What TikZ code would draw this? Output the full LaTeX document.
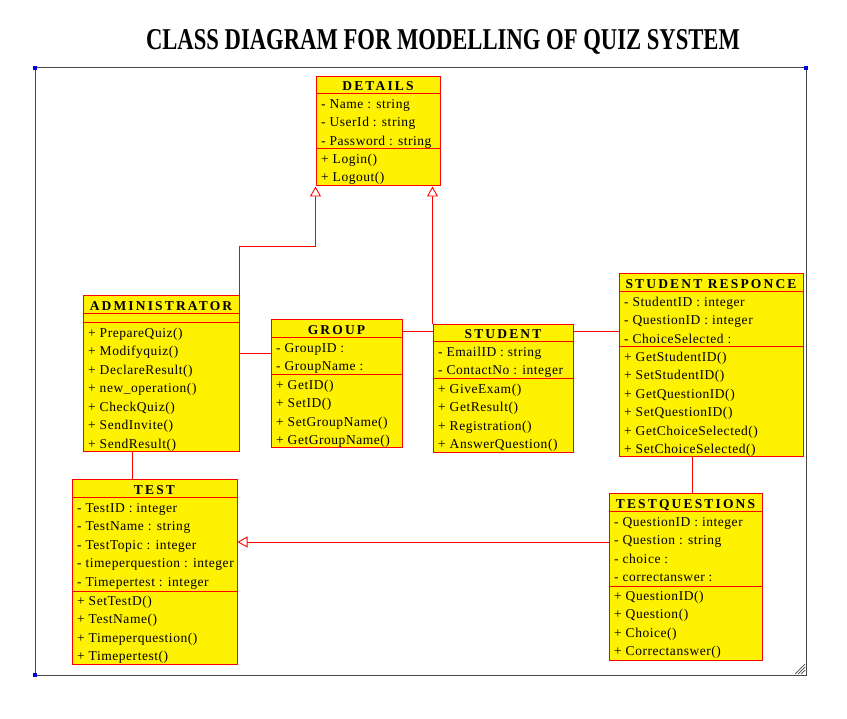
\documentclass[tikz,border=0pt]{standalone}
\usepackage{fontspec}
\setmainfont{Liberation Serif}
\usetikzlibrary{arrows.meta,fit}
\newfontfamily\rowfont[LetterSpace=4]{Liberation Serif}
\newfontfamily\headfont[LetterSpace=16]{Liberation Serif}
\newfontfamily\titlefont{Liberation Serif}
\definecolor{framegray}{RGB}{70,70,70}
\definecolor{markblue}{RGB}{0,0,220}
\tikzset{
  classbox/.style={draw=red, fill=yellow, line width=1pt, inner sep=0pt},
  divider/.style={draw=red, line width=1pt},
  headtext/.style={anchor=base, inner sep=0pt, font=\headfont\bfseries\fontsize{13.5}{15}\selectfont},
  rowtext/.style={anchor=base west, inner sep=0pt, font=\rowfont\fontsize{13.5}{15}\selectfont},
  assoc/.style={draw=red, line width=0.9pt},
  gen/.style={draw=red, line width=0.9pt, -{Triangle[open, fill=white, length=10pt, width=11pt]}},
  frameline/.style={draw=framegray, line width=1pt},
  cornermark/.style={fill=markblue, inner sep=0pt, minimum size=3.5pt},
}
\newcommand\umlclass[8]{%
  \node[classbox, fit={(#2,#3) (#4,#5)}] (#1) {};
  \draw[divider] (#2,#6) -- (#4,#6);
  \draw[divider] (#2,#7) -- (#4,#7);
  \node[headtext] (#1-title) at ({(#2+#4)/2},{#6-3.5}) {#8};
}
\newcommand\umlrows[4]{%
  \foreach \t [count=\i from 0] in {#4} {\node[rowtext] (#1-r\i) at ({#2+5},{#3+14.3+\i*18.5}) {\t};}
}
\begin{document}
\begin{tikzpicture}[x=1pt,y=-1pt]
\useasboundingbox (0,0) rectangle (847,719);
\fill[white] (0,0) rectangle (847,719);
% title
\node[inner sep=0pt, anchor=base] (title) at (443,50) {\resizebox{594pt}{20pt}{\titlefont\bfseries CLASS DIAGRAM FOR MODELLING OF QUIZ SYSTEM}};
% frame
\draw[frameline] (35,68) rectangle (806,675);
\node[cornermark] (c1) at (35,68) {};
\node[cornermark] (c2) at (806,68) {};
\node[cornermark] (c3) at (35,675) {};
\draw[framegray, line width=0.7pt] (795,674) -- (805,664) (798,674) -- (805,667) (801,674) -- (805,670);
% classes
\umlclass{details}{316}{77}{440}{186}{94}{149}{DETAILS}
\umlrows{details}{316}{94}{- Name : string, - UserId : string, - Password : string}
\umlrows{detailsm}{316}{149}{+ Login(), + Logout()}

\umlclass{admin}{83}{296}{239}{452}{314}{323}{ADMINISTRATOR}
\umlrows{admin}{83}{323}{+ PrepareQuiz(), + Modifyquiz(), + DeclareResult(), + new\_operation(), + CheckQuiz(), + SendInvite(), + SendResult()}

\umlclass{group}{271}{320}{402}{448}{338}{375}{GROUP}
\umlrows{group}{271}{338}{- GroupID :, - GroupName :}
\umlrows{groupm}{271}{375}{+ GetID(), + SetID(), + SetGroupName(), + GetGroupName()}

\umlclass{student}{433}{325}{573}{453}{342}{379}{STUDENT}
\umlrows{student}{433}{342}{- EmailID : string, - ContactNo : integer}
\umlrows{studentm}{433}{379}{+ GiveExam(), + GetResult(), + Registration(), + AnswerQuestion()}

\umlclass{resp}{619}{274}{803}{457}{292}{347}{STUDENT RESPONCE}
\umlrows{resp}{619}{292}{- StudentID : integer, - QuestionID : integer, - ChoiceSelected :}
\umlrows{respm}{619}{347}{+ GetStudentID(), + SetStudentID(), + GetQuestionID(), + SetQuestionID(), + GetChoiceSelected(), + SetChoiceSelected()}

\umlclass{test}{72}{480}{237}{664}{498}{591}{TEST}
\umlrows{test}{72}{498}{- TestID : integer, - TestName : string, - TestTopic : integer, - timeperquestion : integer, - Timepertest : integer}
\umlrows{testm}{72}{591}{+ SetTestD(), + TestName(), + Timeperquestion(), + Timepertest()}

\umlclass{tq}{609}{494}{762}{660}{512}{586}{TESTQUESTIONS}
\umlrows{tq}{609}{512}{- QuestionID : integer, - Question : string, - choice :, - correctanswer :}
\umlrows{tqm}{609}{586}{+ QuestionID(), + Question(), + Choice(), + Correctanswer()}
% connectors
\draw[gen] (admin.north east) -- (admin.north east |- 0,246) -| (details.south west);
\draw[gen] (student.north west) -- (student.north west |- details.south);
\draw[assoc] (admin.east |- 0,353) -- (group.west |- 0,353);
\draw[assoc] (group.east |- 0,331) -- (student.west |- 0,331);
\draw[assoc] (student.east |- 0,331) -- (resp.west |- 0,331);
\draw[assoc] (admin.south -| 132,0) -- (test.north -| 132,0);
\draw[assoc] (resp.south -| 692,0) -- (tq.north -| 692,0);
\draw[gen] (tq.west |- 0,542) -- (test.east |- 0,542);
\end{tikzpicture}
\end{document}
